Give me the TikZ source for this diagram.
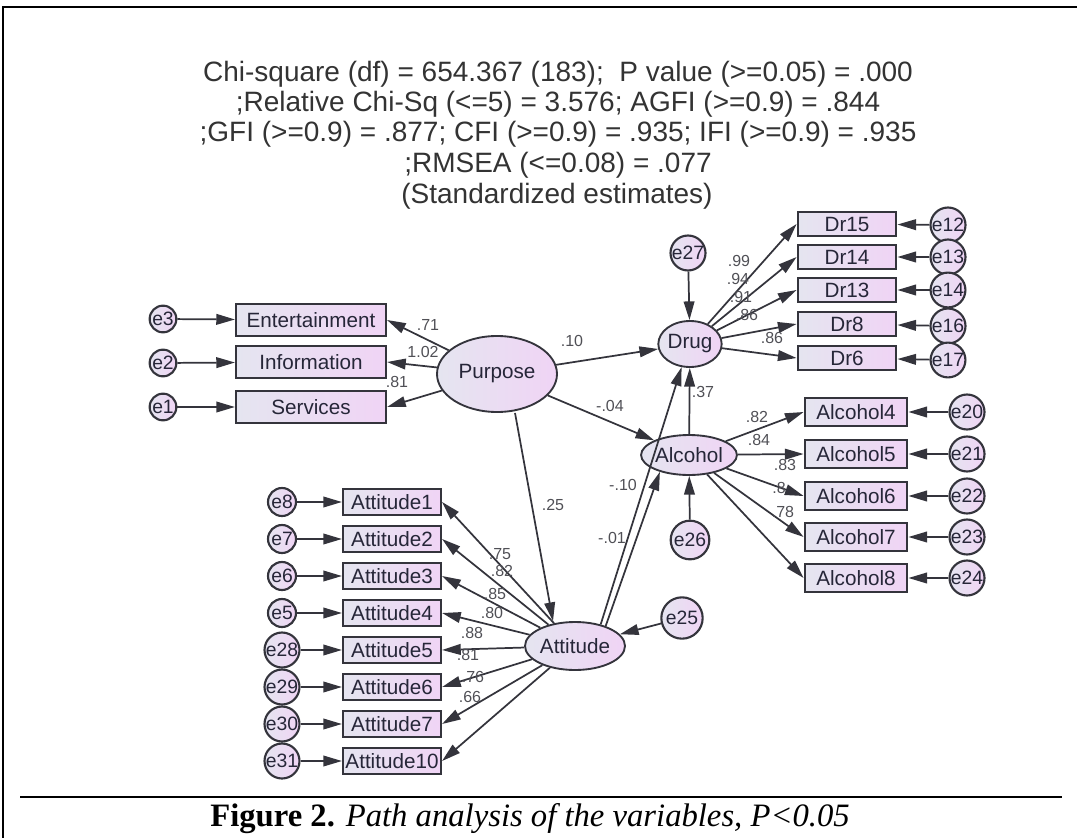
\documentclass[tikz,border=0pt]{standalone}
\usepackage{fontspec}
\setmainfont{Liberation Serif}
\newfontfamily\arial{Liberation Sans}
\usetikzlibrary{arrows.meta,calc,shapes.geometric}

\definecolor{fillL}{RGB}{229,229,240}
\definecolor{fillR}{RGB}{240,212,245}
\definecolor{edge}{RGB}{52,52,60}
\definecolor{ink}{RGB}{38,38,56}
\definecolor{numc}{RGB}{80,80,86}

\tikzset{
  obs/.style={draw=edge, line width=1.6pt, left color=fillL, right color=fillR,
    inner sep=0pt, text=ink, font=\arial\fontsize{15.5}{16}\selectfont},
  latent/.style={ellipse, draw=edge, line width=1.4pt, left color=fillL, right color=fillR,
    inner sep=0pt, text=ink, font=\arial\fontsize{15.5}{16}\selectfont},
  errc/.style={circle, draw=edge, line width=1.6pt, left color=fillL, right color=fillR,
    inner sep=0pt, minimum size=21pt, text=ink, font=\arial\fontsize{14.5}{15}\selectfont},
  conn/.style={draw=edge, line width=1.3pt, -{Triangle[length=14pt,width=8pt]}},
  coef/.style={inner sep=0pt, text=numc, font=\arial\fontsize{12}{13}\selectfont},
  head/.style={inner sep=0pt, text=black!80, font=\arial\fontsize{21}{22}\selectfont},
}

\begin{document}
\begin{tikzpicture}[x=0.75pt,y=-0.75pt]
\useasboundingbox (0,0) rectangle (1077,838);

% frame and caption rule
\draw[line width=1.6pt] (3,838) -- (3,7) -- (1077,7);
\draw[line width=2.2pt] (20,797) -- (1062,797);

% fit statistics
\node[head] (h1) at (558,74)  {Chi-square (df) = 654.367 (183);\ \ P value (>=0.05) = .000};
\node[head] (h2) at (558,104) {;Relative Chi-Sq (<=5) = 3.576; AGFI (>=0.9) = .844};
\node[head] (h3) at (558,134) {;GFI (>=0.9) = .877; CFI (>=0.9) = .935; IFI (>=0.9) = .935};
\node[head] (h4) at (558,165) {;RMSEA (<=0.08) = .077};
\node[head] (h5) at (557,196) {(Standardized estimates)};

% latent variables
\node[latent, minimum width=90pt, minimum height=57pt] (pur) at (497,374) {Purpose};
\node[latent, minimum width=42pt, minimum height=34.5pt] (drug) at (690,344) {Drug};
\node[latent, minimum width=69pt, minimum height=30pt] (alc) at (689,455) {Alcohol};
\node[latent, minimum width=75pt, minimum height=36pt] (att) at (575,646) {Attitude};

% Purpose indicators
\node[obs, minimum width=112.5pt, minimum height=24pt] (ent) at (311,320) {Entertainment};
\node[obs, minimum width=112.5pt, minimum height=24pt] (inf) at (311,362) {Information};
\node[obs, minimum width=112.5pt, minimum height=24pt] (ser) at (311,407) {Services};
\node[errc, minimum size=20pt] (e3) at (163,319) {e3};
\node[errc, minimum size=20pt] (e2) at (163,363) {e2};
\node[errc, minimum size=20pt] (e1) at (163,407) {e1};

% Drug indicators
\foreach \nm/\lab/\y/\e/\ey in {d15/Dr15/224/e12/225, d14/Dr14/257/e13/257, d13/Dr13/290/e14/290, d8/Dr8/324/e16/326, d6/Dr6/358/e17/360}{
  \node[obs, minimum width=74pt, minimum height=18.5pt] (\nm) at (847,\y) {\lab};
  \node[errc, minimum size=22pt] (\e) at (948,\ey) {\e};
  \draw[conn] (\e) -- (\nm);
  \draw[conn] (drug) -- (\nm.west);
}

% Alcohol indicators
\foreach \nm/\lab/\y/\e in {a4/Alcohol4/412/e20, a5/Alcohol5/454/e21, a6/Alcohol6/496/e22, a7/Alcohol7/537/e23, a8/Alcohol8/578/e24}{
  \node[obs, minimum width=77pt, minimum height=21pt] (\nm) at (856,\y) {\lab};
  \node[errc, minimum size=22pt] (\e) at (967,\y) {\e};
  \draw[conn] (\e) -- (\nm);
  \draw[conn] (alc) -- (\nm.west);
}

% Attitude indicators
\foreach \nm/\lab/\y/\e in {t1/Attitude1/502/e8, t2/Attitude2/539/e7, t3/Attitude3/576/e6, t4/Attitude4/613/e5, t5/Attitude5/650/e28, t6/Attitude6/687/e29, t7/Attitude7/724/e30, t10/Attitude10/761/e31}{
  \node[obs, minimum width=73.5pt, minimum height=20pt] (\nm) at (392,\y) {\lab};
  \node[errc, minimum size=21pt] (\e) at (282,\y) {\e};
  \draw[conn] (\e) -- (\nm);
  \draw[conn] (att) -- (\nm.east);
}

% structural disturbances
\node[errc, minimum size=26pt] (e27) at (688,253) {e27};
\node[errc, minimum size=29pt] (e26) at (690,540) {e26};
\node[errc, minimum size=31pt] (e25) at (682,618) {e25};

% measurement paths of Purpose
\draw[conn] (e3) -- (ent);
\draw[conn] (e2) -- (inf);
\draw[conn] (e1) -- (ser);
\draw[conn] (pur) -- (ent.east);
\draw[conn] (pur) -- (inf.east);
\draw[conn] (pur) -- (ser.east);

% structural paths
\draw[conn] (pur) -- (drug);
\draw[conn] (pur) -- (alc);
\draw[conn] ($(pur.south)+(18,0)$) -- ($(att.north)+(-22,0)$);
\draw[conn] (alc) -- (drug);
\draw[conn] (att.40) -- (drug.-110);
\draw[conn] (att.33) -- (alc.-150);
\draw[conn] (e27) -- (drug);
\draw[conn] (e26) -- (alc);
\draw[conn] (e25) -- (att);

% coefficients
\node[coef] (c71)  at (428,325) {.71};
\node[coef] (c102) at (423,352) {1.02};
\node[coef] (c81)  at (397,382) {.81};
\node[coef] (c10)  at (572,341) {.10};
\node[coef] (c04)  at (610,406) {-.04};
\node[coef] (c25)  at (553,505) {.25};
\node[coef] (cm10) at (623,485) {-.10};
\node[coef] (cm01) at (612,538) {-.01};
\node[coef] (c37)  at (703,392) {.37};
\node[coef] (d99)  at (739,261) {.99};
\node[coef] (d94)  at (738,279) {.94};
\node[coef] (d91)  at (741,297) {.91};
\node[coef] (d86a) at (747,315) {.86};
\node[coef] (d86b) at (772,338) {.86};
\node[coef] (l82)  at (757,417) {.82};
\node[coef] (l84)  at (759,440) {.84};
\node[coef] (l83)  at (785,465) {.83};
\node[coef] (l8x)  at (779,488) {.8};
\node[coef] (l78)  at (783,512) {.78};
\node[coef] (t75)  at (500,554) {.75};
\node[coef] (t82)  at (502,571) {.82};
\node[coef] (t85)  at (495,594) {.85};
\node[coef] (t80)  at (492,613) {.80};
\node[coef] (t88)  at (472,633) {.88};
\node[coef] (t81)  at (468,655) {.81};
\node[coef] (t76)  at (473,677) {.76};
\node[coef] (t66)  at (470,697) {.66};

% caption
\node[inner sep=0pt, font=\fontsize{24.5}{26}\selectfont] (cap) at (530,819)
  {\textbf{Figure 2.} \textit{Path analysis of the variables, P<0.05}};
\end{tikzpicture}
\end{document}
